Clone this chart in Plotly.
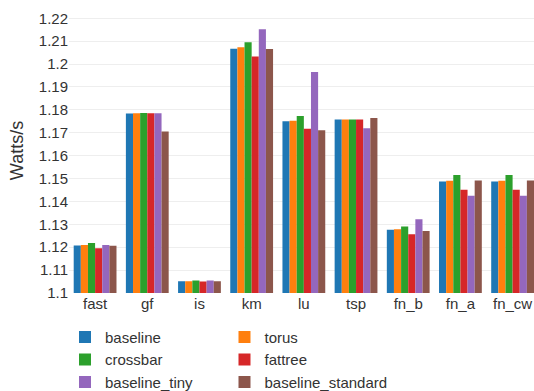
import plotly.graph_objects as go

benchmarks = ["fast", "gf", "is", "km", "lu", "tsp", "fn_b", "fn_a", "fn_cw"]

baseline = [1.1207, 1.1784, 1.1051, 1.2067, 1.1750, 1.1758, 1.1276, 1.1487, 1.1487]
torus = [1.1210, 1.1785, 1.1051, 1.2074, 1.1753, 1.1758, 1.1279, 1.1490, 1.1490]
crossbar = [1.1218, 1.1786, 1.1055, 1.2095, 1.1773, 1.1758, 1.1291, 1.1515, 1.1515]
fattree = [1.1195, 1.1785, 1.1050, 1.2033, 1.1718, 1.1758, 1.1257, 1.1451, 1.1451]
baseline_tiny = [1.1210, 1.1785, 1.1055, 1.2152, 1.1965, 1.1720, 1.1322, 1.1425, 1.1425]
baseline_standard = [1.1206, 1.1706, 1.1051, 1.2066, 1.1711, 1.1765, 1.1271, 1.1491, 1.1491]

# (name, values, colour, legend column)
series = [
    ("baseline", baseline, "#1f77b4", "legend"),
    ("torus", torus, "#ff7f0e", "legend2"),
    ("crossbar", crossbar, "#2ca02c", "legend"),
    ("fattree", fattree, "#d62728", "legend2"),
    ("baseline_tiny", baseline_tiny, "#9467bd", "legend"),
    ("baseline_standard", baseline_standard, "#8c564b", "legend2"),
]

y_ticks = [1.10, 1.11, 1.12, 1.13, 1.14, 1.15, 1.16, 1.17, 1.18, 1.19, 1.20, 1.21, 1.22]
y_tick_text = ["1.1", "1.11", "1.12", "1.13", "1.14", "1.15", "1.16", "1.17",
               "1.18", "1.19", "1.2", "1.21", "1.22"]

fig = go.Figure()
for name, vals, color, leg in series:
    fig.add_trace(go.Bar(
        x=benchmarks, y=vals, name=name, legend=leg,
        marker=dict(color=color, line=dict(width=0)),
    ))

font_family = "Liberation Sans, Arial, sans-serif"
legend_style = dict(
    orientation="v", y=-0.097, yanchor="top", xanchor="left",
    font=dict(size=15, color="#333"), traceorder="normal",
    bgcolor="rgba(0,0,0,0)",
)
fig.update_layout(
    width=534, height=391,
    margin=dict(l=69, r=0, t=8, b=98, autoexpand=False),
    paper_bgcolor="white", plot_bgcolor="white",
    barmode="group", bargap=0.18, bargroupgap=0,
    font=dict(family=font_family, size=15, color="#333"),
    xaxis=dict(
        type="category", range=[-0.5, 8.41],
        showgrid=False, showline=False, zeroline=False,
        tickfont=dict(size=15, color="#333"),
    ),
    yaxis=dict(
        range=[1.1, 1.2245],
        tickvals=y_ticks, ticktext=y_tick_text,
        showgrid=True, gridcolor="#eeeeee", gridwidth=1,
        zeroline=False, showline=False,
        tickfont=dict(size=15, color="#333"),
        title=dict(text="Watts/s", font=dict(size=18, color="#333"), standoff=10),
    ),
    legend=dict(x=-0.0086, **legend_style),
    legend2=dict(x=0.3344, **legend_style),
)

fig.write_html("out.html")
